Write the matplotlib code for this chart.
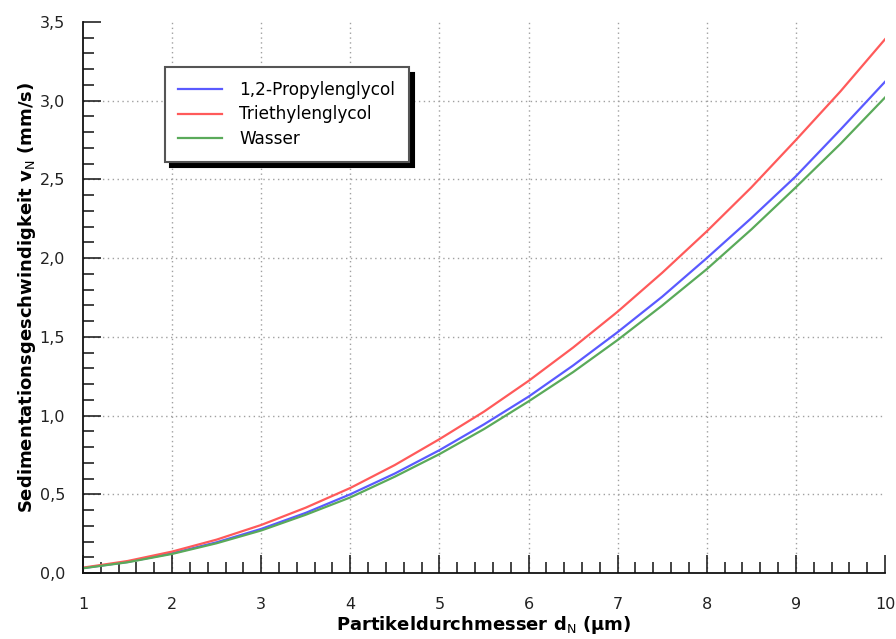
import matplotlib.pyplot as plt
from matplotlib.ticker import MultipleLocator, FuncFormatter

plt.rcParams['font.family'] = 'DejaVu Sans'
plt.rcParams['font.size'] = 11.5

# data
d = [1.0, 1.5, 2.0, 2.5, 3.0, 3.5, 4.0, 4.5, 5.0, 5.5, 6.0, 6.5, 7.0, 7.5, 8.0, 8.5, 9.0, 9.5, 10.0]
propylenglycol = [0.031, 0.070, 0.125, 0.195, 0.28, 0.382, 0.50, 0.632, 0.78, 0.944, 1.12,
                  1.318, 1.53, 1.755, 2.00, 2.254, 2.52, 2.816, 3.12]
triethylenglycol = [0.034, 0.076, 0.136, 0.212, 0.305, 0.415, 0.54, 0.686, 0.85, 1.025, 1.22,
                    1.432, 1.66, 1.907, 2.17, 2.449, 2.75, 3.059, 3.39]
wasser = [0.030, 0.068, 0.121, 0.189, 0.27, 0.370, 0.48, 0.612, 0.755, 0.914, 1.09,
          1.276, 1.48, 1.699, 1.93, 2.182, 2.45, 2.726, 3.02]

x_ticks = [1, 2, 3, 4, 5, 6, 7, 8, 9, 10]
y_ticks = [0.0, 0.5, 1.0, 1.5, 2.0, 2.5, 3.0, 3.5]

fig = plt.figure(figsize=(8.96, 6.39), dpi=100)
ax = fig.add_axes([0.0926, 0.1033, 0.8951, 0.8623])

# dotted grid only at the inner major ticks
for xv in x_ticks[1:-1]:
    ax.axvline(xv, linestyle=(0, (1, 2.5)), color='#a0a0a0', linewidth=1, zorder=0)
for yv in y_ticks[1:-1]:
    ax.axhline(yv, linestyle=(0, (1, 2.5)), color='#a0a0a0', linewidth=1, zorder=0)

ax.plot(d, propylenglycol, color='#5a5aff', lw=1.6, label='1,2-Propylenglycol')
ax.plot(d, triethylenglycol, color='#ff5a5a', lw=1.6, label='Triethylenglycol')
ax.plot(d, wasser, color='#5aaa5a', lw=1.6, label='Wasser')

ax.set_xlim(1, 10)
ax.set_ylim(0, 3.5)
ax.set_xticks(x_ticks)
ax.set_yticks(y_ticks)
ax.xaxis.set_minor_locator(MultipleLocator(0.2))
ax.yaxis.set_minor_locator(MultipleLocator(0.1))
ax.yaxis.set_major_formatter(FuncFormatter(lambda v, p: ('%.1f' % v).replace('.', ',')))
ax.xaxis.set_major_formatter(FuncFormatter(lambda v, p: '%d' % v))

ax.tick_params(which='major', direction='in', length=13, width=1.1, color='#111111', labelcolor='#222222')
ax.tick_params(which='minor', direction='in', length=8, width=1.1, color='#111111')
ax.tick_params(axis='x', which='major', pad=17)
ax.tick_params(axis='y', which='major', pad=13)

for s in ['top', 'right']:
    ax.spines[s].set_visible(False)
for s in ['left', 'bottom']:
    ax.spines[s].set_linewidth(1.3)
    ax.spines[s].set_color('#111111')

ax.set_xlabel(r'Partikeldurchmesser d$_{\mathrm{N}}$ (µm)', fontweight='bold', fontsize=13, labelpad=2)
ax.set_ylabel(r'Sedimentationsgeschwindigkeit v$_{\mathrm{N}}$ (mm/s)', fontweight='bold', fontsize=13, labelpad=1)

leg = ax.legend(loc='upper left', bbox_to_anchor=(0.102, 0.918), fancybox=False,
                shadow={'ox': 4, 'oy': -4, 'color': 'black', 'alpha': 1},
                framealpha=1, edgecolor='#555555', fontsize=12.2, handlelength=2.6,
                labelspacing=0.4, borderpad=0.8, handletextpad=1.0, borderaxespad=0)
leg.get_frame().set_linewidth(1.5)

plt.savefig('out.png', dpi=100)
